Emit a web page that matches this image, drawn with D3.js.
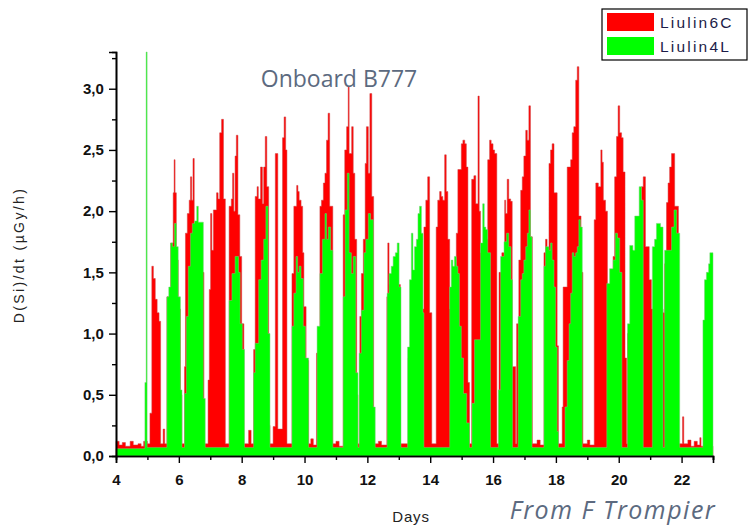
<!DOCTYPE html>
<html>
<head>
<meta charset="utf-8">
<script src="https://cdn.jsdelivr.net/npm/d3@7"></script>
<style>
    body { margin: 0; background: #fff; }
    svg { display: block; }
</style>
</head>
<body>
<script>
// data: [day, dose rate], step series

const seriesNames = ["Liulin6C", "Liulin4L"]

const liulin6C = [
    [4.0, 0.12], [4.1, 0.09], [4.2, 0.11], [4.3, 0.08], [4.45, 0.12], [4.55, 0.09], [4.7, 0.1], [4.8, 0.08], [4.88, 0.12],
    [5.0, 0.1], [5.08, 0.35], [5.14, 1.55], [5.19, 1.45], [5.25, 1.28], [5.31, 1.17], [5.37, 1.1], [5.42, 0.1], [5.5, 0.22], [5.55, 0.1],
    [5.62, 1.3], [5.74, 1.74], [5.82, 2.15], [5.85, 2.42], [5.88, 2.15], [5.92, 1.6], [5.98, 1.2], [6.05, 0.5], [6.1, 0.1],
    [6.18, 0.73], [6.21, 1.82], [6.27, 1.98], [6.33, 2.09], [6.37, 2.28], [6.41, 2.09], [6.45, 2.43], [6.49, 1.9], [6.53, 1.71], [6.6, 1.5], [6.8, 0.1],
    [6.93, 0.62], [6.97, 1.36], [7.01, 1.98], [7.05, 1.68], [7.1, 2.01], [7.2, 2.15], [7.25, 2.1], [7.3, 2.64], [7.36, 2.75], [7.42, 2.1], [7.48, 0.1],
    [7.6, 2.04], [7.67, 2.1], [7.71, 2.31], [7.75, 2.0], [7.79, 2.45], [7.83, 2.62], [7.88, 1.97], [7.94, 1.63], [8.0, 1.08], [8.07, 0.1],
    [8.22, 0.21], [8.3, 0.1],
    [8.38, 0.87], [8.43, 2.12], [8.49, 2.2], [8.53, 2.1], [8.6, 2.36], [8.66, 2.06], [8.7, 2.36], [8.75, 2.61], [8.8, 2.2], [8.86, 0.25], [8.9, 0.1],
    [9.0, 0.24], [9.07, 2.47], [9.15, 0.22], [9.3, 2.6], [9.35, 2.77], [9.4, 2.5], [9.44, 0.1],
    [9.6, 1.49], [9.66, 2.04], [9.75, 2.21], [9.79, 2.16], [9.83, 2.09], [9.89, 2.04], [9.94, 1.66], [9.98, 1.22], [10.05, 0.78], [10.13, 0.1],
    [10.2, 0.14], [10.28, 0.09],
    [10.38, 0.84], [10.44, 1.0], [10.49, 2.04], [10.54, 2.09], [10.6, 2.23], [10.65, 2.31], [10.7, 2.58], [10.75, 2.8], [10.8, 2.04], [10.9, 0.1],
    [11.0, 0.12], [11.1, 0.08],
    [11.23, 1.97], [11.28, 2.5], [11.34, 2.69], [11.39, 3.02], [11.42, 2.47], [11.5, 2.69], [11.55, 2.31], [11.6, 1.77], [11.66, 0.5], [11.7, 0.1],
    [11.76, 1.14], [11.81, 1.49], [11.87, 1.77], [11.93, 2.39], [11.97, 2.69], [12.03, 2.31], [12.08, 2.96], [12.14, 2.12], [12.2, 0.1],
    [12.35, 0.12], [12.45, 0.09],
    [12.62, 1.3], [12.65, 1.74], [12.69, 1.4], [13.05, 0.1],
    [13.3, 0.8], [13.6, 1.2], [13.8, 1.87], [13.86, 2.09], [13.92, 2.28], [13.98, 1.17], [14.05, 0.1],
    [14.19, 1.87], [14.24, 2.09], [14.3, 2.16], [14.35, 2.12], [14.4, 2.09], [14.46, 2.46], [14.51, 2.16], [14.56, 1.77], [14.62, 1.2],
    [14.83, 1.82], [14.88, 2.34], [14.99, 2.55], [15.04, 2.58], [15.1, 2.55], [15.15, 2.36], [15.2, 0.6], [15.25, 0.1],
    [15.32, 2.26], [15.39, 2.29], [15.45, 2.06], [15.52, 2.94], [15.56, 2.0], [15.6, 1.66], [15.67, 1.71], [15.73, 1.77],
    [15.83, 2.42], [15.89, 2.58], [15.94, 2.55], [16.0, 2.5], [16.05, 2.47], [16.12, 0.1],
    [16.19, 1.5], [16.28, 1.66], [16.37, 2.09], [16.4, 1.98], [16.45, 2.26], [16.5, 2.1], [16.56, 2.08], [16.61, 0.73], [16.72, 0.1], [16.75, 1.08],
    [16.82, 1.6], [16.88, 2.17], [16.93, 2.28], [16.98, 2.45], [17.04, 2.66], [17.09, 2.58], [17.14, 2.86], [17.19, 1.79], [17.25, 0.1],
    [17.4, 0.13], [17.5, 0.09],
    [17.62, 1.66], [17.67, 1.77], [17.72, 1.68], [17.78, 2.39], [17.83, 2.5], [17.88, 2.55], [17.94, 2.15], [18.04, 0.9], [18.08, 0.1],
    [18.2, 0.4], [18.23, 1.38], [18.36, 2.36], [18.47, 2.42], [18.52, 2.64], [18.57, 2.69], [18.63, 3.07], [18.68, 3.18], [18.73, 1.96], [18.8, 1.5], [18.86, 0.1],
    [19.0, 0.13], [19.08, 0.09],
    [19.22, 1.93], [19.27, 2.23], [19.35, 2.2], [19.43, 2.5], [19.47, 2.4], [19.51, 2.09], [19.58, 2.0], [19.64, 1.2],
    [19.82, 1.63], [19.87, 2.28], [19.93, 2.61], [19.98, 2.86], [20.03, 2.64], [20.09, 2.6], [20.14, 2.32], [20.2, 0.8], [20.25, 0.1],
    [20.28, 1.0], [20.6, 1.9], [20.72, 2.2], [20.78, 2.28], [20.85, 1.71], [20.97, 1.44], [21.04, 1.2], [21.41, 1.17],
    [21.46, 1.57], [21.52, 2.07], [21.57, 2.23], [21.62, 2.36], [21.68, 2.47], [21.78, 2.04], [21.9, 0.1],
    [22.03, 0.32], [22.07, 0.1], [22.2, 0.13], [22.3, 0.08], [22.4, 0.12], [22.5, 0.09], [22.58, 0.15], [22.62, 0.08]
]

const liulin4L = [
    [4.0, 0.06],
    [4.92, 0.6], [4.96, 3.3], [4.99, 0.07],
    [5.62, 1.3], [5.68, 1.38], [5.74, 1.74], [5.8, 1.71], [5.86, 1.9], [5.92, 1.71], [5.98, 1.3], [6.05, 0.54], [6.1, 0.07],
    [6.18, 0.51], [6.24, 1.14], [6.3, 1.55], [6.37, 1.82], [6.43, 1.9], [6.5, 1.92], [6.57, 2.04], [6.62, 1.91], [6.78, 0.47], [6.84, 0.07],
    [7.6, 1.27], [7.69, 1.49], [7.79, 1.63], [7.9, 1.5], [7.95, 1.08], [8.02, 0.87], [8.09, 0.07],
    [8.38, 0.68], [8.43, 0.92], [8.54, 1.44], [8.62, 1.6], [8.7, 1.77], [8.77, 2.04], [8.84, 1.0], [8.9, 0.07],
    [9.6, 1.06], [9.66, 1.33], [9.73, 1.63], [9.78, 1.5], [9.83, 1.55], [9.89, 1.45], [9.96, 1.06], [10.03, 0.8], [10.13, 0.07],
    [10.4, 1.06], [10.49, 1.49], [10.57, 1.77], [10.65, 1.98], [10.7, 1.77], [10.76, 1.87], [10.83, 1.68], [10.9, 0.07],
    [11.23, 1.3], [11.29, 2.01], [11.36, 2.31], [11.42, 1.66], [11.49, 1.49], [11.55, 1.63], [11.63, 0.68], [11.7, 0.07],
    [11.74, 0.84], [11.81, 1.19], [11.89, 1.66], [11.95, 1.77], [12.03, 1.98], [12.1, 1.93], [12.19, 0.4], [12.25, 0.07],
    [12.63, 1.33], [12.69, 1.49], [12.76, 1.55], [12.82, 1.63], [12.89, 1.66], [12.95, 1.74], [13.01, 1.38], [13.07, 0.07],
    [13.28, 0.89], [13.34, 1.44], [13.4, 1.82], [13.45, 1.52], [13.5, 1.71], [13.56, 1.77], [13.61, 1.98], [13.66, 2.04], [13.72, 1.82], [13.77, 1.17], [13.8, 0.07],
    [14.62, 1.38], [14.67, 1.6], [14.72, 1.55], [14.77, 1.63], [14.83, 1.55], [14.88, 1.49], [14.93, 1.06], [14.99, 0.8], [15.06, 0.51], [15.16, 0.27], [15.25, 0.07],
    [15.33, 0.43], [15.41, 0.95], [15.6, 1.74], [15.67, 2.06], [15.72, 1.87], [15.77, 1.85], [15.83, 1.66], [15.92, 0.07],
    [16.17, 0.54], [16.24, 1.63], [16.35, 1.75], [16.43, 1.82], [16.5, 1.71], [16.57, 1.44], [16.62, 0.07],
    [16.8, 1.14], [16.88, 1.44], [16.93, 1.49], [16.98, 1.6], [17.04, 1.71], [17.09, 1.82], [17.14, 2.01], [17.19, 1.79], [17.24, 0.07],
    [17.62, 1.55], [17.67, 1.71], [17.78, 1.68], [17.83, 1.74], [17.88, 1.6], [17.94, 1.38], [17.99, 0.89], [18.04, 0.2], [18.08, 0.07],
    [18.29, 0.4], [18.36, 0.78], [18.42, 1.08], [18.47, 1.33], [18.52, 1.66], [18.57, 1.63], [18.63, 1.66], [18.68, 1.71], [18.73, 1.93], [18.78, 1.87], [18.84, 0.07],
    [19.62, 1.41], [19.71, 1.53], [19.82, 1.6], [19.89, 1.82], [19.96, 1.78], [20.03, 1.5], [20.1, 0.07],
    [20.28, 1.08], [20.35, 1.72], [20.45, 1.68], [20.51, 1.96], [20.65, 2.2], [20.72, 2.09], [20.78, 0.07],
    [21.07, 1.71], [21.14, 1.77], [21.2, 1.9], [21.33, 1.87], [21.41, 0.07],
    [21.46, 1.68], [21.68, 1.87], [21.76, 2.01], [21.84, 1.82], [21.94, 0.07],
    [22.68, 1.11], [22.73, 1.44], [22.79, 1.5], [22.86, 1.57], [22.9, 1.66]
]

const xMajorTicks = [4, 6, 8, 10, 12, 14, 16, 18, 20, 22]
const yMajorTicks = [0, 0.5, 1, 1.5, 2, 2.5, 3]

// layout

const width = 748
const height = 528
const plotLeft = 116
const plotRight = 713
const plotTop = 52
const plotBottom = 456

const sx = d3.scaleLinear().domain([4, 23]).range([plotLeft, plotRight])
const sy = d3.scaleLinear().domain([0, 3.3]).range([plotBottom, plotTop])

const svg = d3.select("body")
    .append("svg")
    .attr("width", width)
    .attr("height", height)

// areas, red first, green on top

const area = d3.area()
    .x(_ => sx(_[0]))
    .y0(sy(0))
    .y1(_ => sy(_[1]))
    .curve(d3.curveStepAfter)

function closeSeries (data) {
    return data.concat([[23, data[data.length - 1][1]]])
}

svg.append("path")
    .datum(closeSeries(liulin6C))
    .attr("d", area)
    .attr("fill", "#ff0000")
    .attr("stroke", "#cc4040")
    .attr("stroke-width", 0.5)

svg.append("path")
    .datum(closeSeries(liulin4L))
    .attr("d", area)
    .attr("fill", "#00ff00")
    .attr("stroke", "#7acc7a")
    .attr("stroke-width", 0.5)

// axes

const xAxis = svg.append("g")
    .attr("transform", `translate(0,${plotBottom})`)
    .call(d3.axisBottom(sx).tickValues(xMajorTicks).tickSize(7).tickFormat(d3.format("d")))
xAxis.append("g")
    .call(d3.axisBottom(sx).tickValues(d3.range(5, 24, 2)).tickSize(4).tickFormat(""))

const yAxis = svg.append("g")
    .attr("transform", `translate(${plotLeft},0)`)
    .call(d3.axisLeft(sy).tickValues(yMajorTicks).tickSize(7).tickFormat(_ => d3.format(".1f")(_).replace(".", ",")))
yAxis.append("g")
    .call(d3.axisLeft(sy).tickValues(d3.range(0.25, 3.3, 0.5)).tickSize(4).tickFormat(""))

svg.selectAll(".domain")
    .attr("stroke", "#000")
    .attr("stroke-width", 1.6)
svg.selectAll(".tick line")
    .attr("stroke", "#000")
    .attr("stroke-width", 1.4)
xAxis.selectAll(".tick text")
    .attr("dy", "1.25em")
    .attr("font-family", "Liberation Sans, Arial, sans-serif")
    .attr("font-size", 15)
    .attr("font-weight", "bold")
    .attr("fill", "#111")
yAxis.selectAll(".tick text")
    .attr("dx", "-0.15em")
    .attr("font-family", "Liberation Sans, Arial, sans-serif")
    .attr("font-size", 15)
    .attr("font-weight", "bold")
    .attr("fill", "#111")

// labels

svg.append("text")
    .attr("x", 411)
    .attr("y", 522)
    .attr("text-anchor", "middle")
    .attr("font-family", "Liberation Sans, Arial, sans-serif")
    .attr("font-size", 15)
    .attr("letter-spacing", 0.8)
    .attr("fill", "#222")
    .text("Days")

svg.append("text")
    .attr("transform", "translate(24,255) rotate(-90)")
    .attr("text-anchor", "middle")
    .attr("font-family", "Liberation Sans, Arial, sans-serif")
    .attr("font-size", 14)
    .attr("letter-spacing", 2.4)
    .attr("fill", "#222")
    .text("D(Si)/dt (µGy/h)")

svg.append("text")
    .attr("x", 339)
    .attr("y", 87)
    .attr("text-anchor", "middle")
    .attr("font-family", "Open Sans, Noto Sans, sans-serif")
    .attr("font-size", 23)
    .attr("fill", "#5c6a80")
    .text("Onboard B777")

svg.append("text")
    .attr("x", 613)
    .attr("y", 519)
    .attr("text-anchor", "middle")
    .attr("font-family", "Open Sans, Noto Sans, sans-serif")
    .attr("font-size", 25)
    .attr("font-style", "italic")
    .attr("letter-spacing", 1.5)
    .attr("fill", "#5c6a80")
    .text("From F Trompier")

// legend

const legend = svg.append("g")
    .attr("transform", "translate(602,9)")

legend.append("rect")
    .attr("width", 145)
    .attr("height", 51)
    .attr("fill", "#fff")
    .attr("stroke", "#000")
    .attr("stroke-width", 1.2)

legend.selectAll(".swatch")
    .data(seriesNames)
    .enter().append("rect")
    .attr("class", "swatch")
    .attr("x", 5)
    .attr("y", (_, i) => 4 + i * 24)
    .attr("width", 47)
    .attr("height", 18)
    .attr("fill", (_, i) => i === 0 ? "#ff0000" : "#00ff00")

legend.selectAll(".label")
    .data(seriesNames)
    .enter().append("text")
    .attr("class", "label")
    .attr("x", 58)
    .attr("y", (_, i) => 19 + i * 24)
    .attr("font-family", "Liberation Sans, Arial, sans-serif")
    .attr("font-size", 15.5)
    .attr("letter-spacing", 2.2)
    .attr("fill", "#1c1c48")
    .text(_ => _)
</script>
</body>
</html>
